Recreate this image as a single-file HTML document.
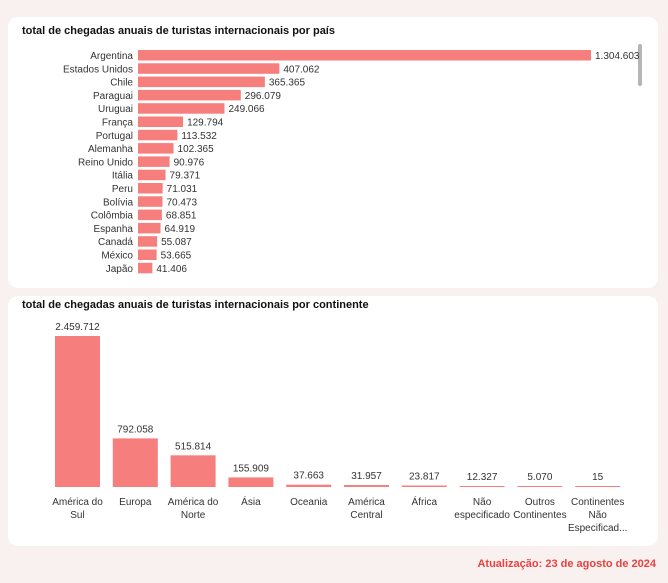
<!DOCTYPE html>
<html><head><meta charset="utf-8"><style>
body{margin:0;width:668px;height:583px;background:#f9f1ef;font-family:"Liberation Sans",sans-serif;position:relative;overflow:hidden}
.card{position:absolute;background:#fff;border-radius:10px}
.t{position:absolute;font-weight:bold;font-size:11px;color:#111}
svg text{font-family:"Liberation Sans",sans-serif;font-size:10px;fill:#333}
</style></head><body>
<div class="card" style="left:8px;top:17px;width:650px;height:271px">
<div class="t" style="left:14px;top:8px">total de chegadas anuais de turistas internacionais por país</div>
</div>
<div class="card" style="left:8px;top:296px;width:650px;height:250px">
<div class="t" style="left:14px;top:3px">total de chegadas anuais de turistas internacionais por continente</div>
</div>
<div style="position:absolute;right:12px;top:558px;color:#e8413f;font-weight:bold;font-size:11px">Atualização: 23 de agosto de 2024</div>
<svg id="s" width="668" height="583" style="position:absolute;left:0;top:0">
<rect x="638" y="44" width="4" height="42" rx="2" fill="#b5b5b5"/>
</svg>
<script>
const countries=["Argentina","Estados Unidos","Chile","Paraguai","Uruguai","França","Portugal","Alemanha","Reino Unido","Itália","Peru","Bolívia","Colômbia","Espanha","Canadá","México","Japão"];
const countryValues=[1304603,407062,365365,296079,249066,129794,113532,102365,90976,79371,71031,70473,68851,64919,55087,53665,41406];
const countryLabels=["1.304.603","407.062","365.365","296.079","249.066","129.794","113.532","102.365","90.976","79.371","71.031","70.473","68.851","64.919","55.087","53.665","41.406"];
const continents=[["América do","Sul"],["Europa"],["América do","Norte"],["Ásia"],["Oceania"],["América","Central"],["África"],["Não","especificado"],["Outros","Continentes"],["Continentes","Não","Especificad..."]];
const continentValues=[2459712,792058,515814,155909,37663,31957,23817,12327,5070,15];
const continentLabels=["2.459.712","792.058","515.814","155.909","37.663","31.957","23.817","12.327","5.070","15"];
const s=document.getElementById('s');const NS="http://www.w3.org/2000/svg";
function el(t,a,txt){const e=document.createElementNS(NS,t);for(const k in a)e.setAttribute(k,a[k]);if(txt!==undefined)e.textContent=txt;s.appendChild(e);return e;}
const C="#f67e7d";
const xS=v=>453*v/1304603;
const yRow=i=>50+i*13.3;
countries.forEach((c,i)=>{
 if(yRow(i)>278)return;
 const y=yRow(i);
 let t=el('text',{x:133,y:y+9,'text-anchor':'end'},c);
 
 
 let r=el('rect',{x:138,y:y,width:xS(countryValues[i]),height:10.5,fill:C});
 
 
 let v=el('text',{x:138+xS(countryValues[i])+4,y:y+9},countryLabels[i]);
 
 
});
const base=487;const hS=v=>151*v/2459712;const cx=i=>77.5+i*57.8;
continents.forEach((c,i)=>{
 const h=Math.max(hS(continentValues[i]),1);
 let r=el('rect',{x:cx(i)-22.5,y:base-h,width:45,height:h,fill:C});
 
 
 let v=el('text',{x:cx(i),y:base-h-6,'text-anchor':'middle'},continentLabels[i]);
 
 
 c.forEach((line,j)=>{
  let t=el('text',{x:cx(i),y:505+j*13,'text-anchor':'middle',fill:'#555'},line);
  
  
 });
});
</script>
</body></html>
